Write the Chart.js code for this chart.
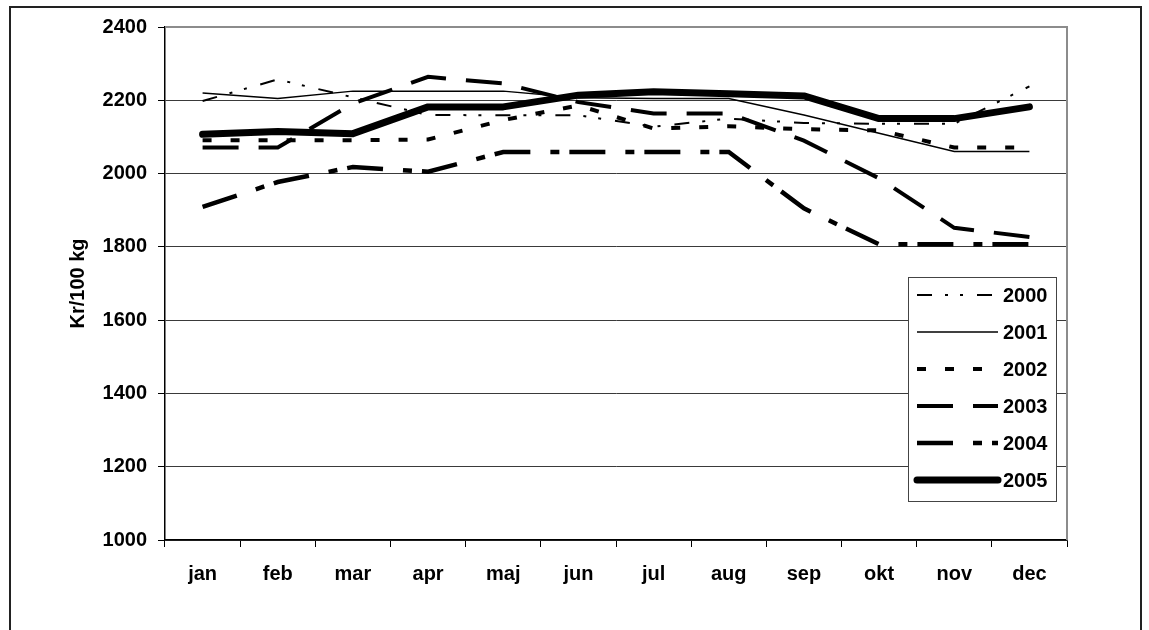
<!DOCTYPE html>
<html lang="sv">
<head>
  <meta charset="UTF-8">
  <title>Kr/100 kg</title>
  <script src="https://cdn.jsdelivr.net/npm/chart.js"></script>
  <style>
    html, body { margin: 0; padding: 0; background: #fff; }
    canvas { display: block; }
  </style>
</head>
<body>
<canvas id="priceChart" width="1149" height="630"></canvas>

<script>
// Data (kr per 100 kg, per month)
const months = ["jan", "feb", "mar", "apr", "maj", "jun", "jul", "aug", "sep", "okt", "nov", "dec"];
const years = ["2000", "2001", "2002", "2003", "2004", "2005"];
const yTicks = [1000, 1200, 1400, 1600, 1800, 2000, 2200, 2400];

const p2000 = [2198, 2257, 2208, 2160, 2159, 2159, 2128, 2150, 2138, 2136, 2136, 2238];
const p2001 = [2220, 2205, 2225, 2225, 2225, 2207, 2205, 2205, 2160, 2110, 2060, 2060];
const p2002 = [2091, 2091, 2091, 2093, 2146, 2186, 2123, 2129, 2121, 2118, 2071, 2071];
const p2003 = [2071, 2071, 2191, 2264, 2246, 2195, 2164, 2164, 2090, 1987, 1852, 1827];
const p2004 = [1909, 1977, 2018, 2005, 2059, 2059, 2059, 2059, 1905, 1807, 1807, 1807];
const p2005 = [2107, 2115, 2109, 2182, 2182, 2214, 2223, 2218, 2212, 2150, 2150, 2182];

const series = [p2000, p2001, p2002, p2003, p2004, p2005];

// line looks, one per year
const widths = [2, 1.5, 4, 4, 4.5, 7];
const dashes = [[15, 13, 3, 12, 3, 14], [], [9, 19], [36, 20], [36, 20, 9, 10], []];
const caps = ["butt", "butt", "butt", "butt", "butt", "round"];

const FONT = { family: "'Liberation Sans', Arial, sans-serif", size: 20, weight: "bold" };

// frame round the whole picture, plot border and the boxed legend
const frameAndLegend = {
  id: "frameAndLegend",
  afterDraw(chart) {
    const ctx = chart.ctx;
    const a = chart.chartArea;
    ctx.save();

    ctx.strokeStyle = "#222";
    ctx.lineWidth = 2;
    ctx.strokeRect(10, 7, 1131, 700);

    ctx.strokeStyle = "#8c8c8c";
    ctx.lineWidth = 2;
    ctx.beginPath();
    ctx.moveTo(a.left, a.top);
    ctx.lineTo(a.right, a.top);
    ctx.lineTo(a.right, a.bottom);
    ctx.stroke();

    // legend
    ctx.fillStyle = "#fff";
    ctx.fillRect(908, 277, 149, 225);
    ctx.strokeStyle = "#444";
    ctx.lineWidth = 1;
    ctx.strokeRect(908.5, 277.5, 148, 224);

    ctx.font = "bold 20px 'Liberation Sans', Arial, sans-serif";
    ctx.textBaseline = "middle";
    ctx.textAlign = "left";
    chart.data.datasets.forEach((ds, i) => {
      const y = 295 + i * 37;
      ctx.strokeStyle = "#000";
      ctx.lineWidth = ds.borderWidth;
      ctx.lineCap = ds.borderCapStyle;
      ctx.setLineDash(ds.borderDash);
      ctx.beginPath();
      ctx.moveTo(917, y);
      ctx.lineTo(998, y);
      ctx.stroke();
      ctx.setLineDash([]);
      ctx.fillStyle = "#000";
      ctx.fillText(ds.label, 1003, y + 1);
    });

    ctx.restore();
  }
};

const ctx = document.getElementById("priceChart").getContext("2d");
new Chart(ctx, {
  type: "line",
  data: {
    labels: months,
    datasets: years.map((yr, i) => ({
      label: yr,
      data: series[i],
      borderColor: "#000",
      backgroundColor: "#000",
      borderWidth: widths[i],
      borderDash: dashes[i],
      borderCapStyle: caps[i],
      borderJoinStyle: i === 5 ? "round" : "miter",
      pointRadius: 0,
      tension: 0,
      fill: false,
      order: years.length - i
    }))
  },
  options: {
    responsive: false,
    animation: false,
    layout: { padding: { top: 27, right: 82, bottom: 0, left: 0 } },
    plugins: {
      legend: { display: false },
      tooltip: { enabled: false }
    },
    scales: {
      x: {
        offset: true,
        grid: { offset: true, drawOnChartArea: false, tickLength: 7, color: "#000" },
        border: { color: "#000", width: 1.5 },
        ticks: { color: "#000", font: FONT, padding: 15, maxRotation: 0 },
        afterFit: s => { s.height = 90; }
      },
      y: {
        min: 1000,
        max: 2400,
        afterBuildTicks: s => { s.ticks = yTicks.map(v => ({ value: v })); },
        grid: { color: "#3a3a3a", lineWidth: 1, tickLength: 7, tickColor: "#000" },
        border: { color: "#000", width: 1.5 },
        ticks: { color: "#000", font: FONT, padding: 11, callback: v => String(v) },
        title: {
          display: true,
          text: "Kr/100 kg",
          color: "#000",
          font: FONT,
          padding: { top: 66, bottom: 0 }
        },
        afterFit: s => { s.width = 165; }
      }
    }
  },
  plugins: [frameAndLegend]
});
</script>
</body>
</html>
